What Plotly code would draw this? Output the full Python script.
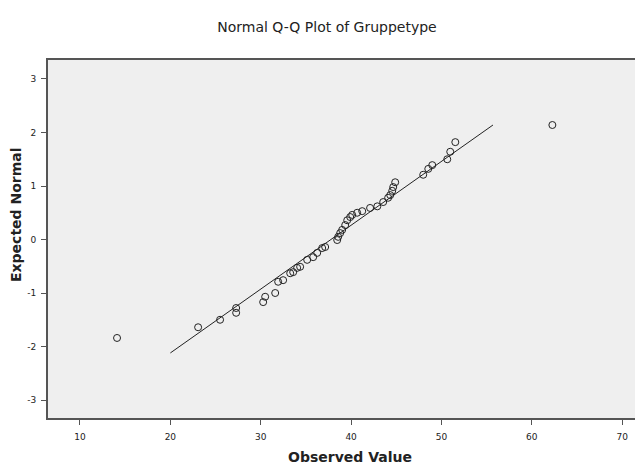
import plotly.graph_objects as go

observed = [14.1, 23.07, 25.50, 27.28, 27.28, 30.27, 30.49, 31.6, 31.93, 32.48,
            33.26, 33.59, 34.03, 34.36, 35.14, 35.80, 36.25, 36.80, 37.13, 38.46,
            38.57, 38.79, 39.01, 39.35, 39.57, 39.90, 40.12, 40.67, 41.23, 42.1,
            42.9, 43.55, 44.1, 44.33, 44.55, 44.66, 44.88, 47.98, 48.54, 48.98,
            50.64, 50.97, 51.53, 62.27]
expected = [-1.84, -1.64, -1.50, -1.37, -1.28, -1.17, -1.07, -1.00, -0.79, -0.76,
            -0.63, -0.61, -0.53, -0.51, -0.38, -0.33, -0.25, -0.16, -0.14, -0.01,
            0.05, 0.12, 0.18, 0.27, 0.36, 0.42, 0.46, 0.50, 0.53, 0.59,
            0.62, 0.70, 0.78, 0.83, 0.91, 0.98, 1.07, 1.21, 1.32, 1.39,
            1.50, 1.64, 1.82, 2.14]
line_x = [20.0, 55.7]
line_y = [-2.12, 2.14]
x_ticks = [10, 20, 30, 40, 50, 60, 70]
y_ticks = [3, 2, 1, 0, -1, -2, -3]

fig = go.Figure()
fig.add_trace(go.Scatter(x=line_x, y=line_y, mode="lines",
                         line=dict(color="#222222", width=1), showlegend=False))
fig.add_trace(go.Scatter(x=observed, y=expected, mode="markers",
                         marker=dict(symbol="circle-open", size=7,
                                     color="#222222", line=dict(width=1)),
                         showlegend=False))

W, H = 643, 470
L, R, T, B = 40, 8, 52, 60
PW, PH = W - L - R, H - T - B
fig.update_layout(
    width=W, height=H,
    margin=dict(l=L, r=R, t=T, b=B),
    paper_bgcolor="white", plot_bgcolor="#efefef",
    font=dict(family="DejaVu Sans, Liberation Sans, sans-serif", color="#222222", size=9),
    title=dict(text="Normal Q-Q Plot of Gruppetype", x=319 / W, xref="container",
               y=1 - 19 / H, yref="container", yanchor="middle", xanchor="center",
               font=dict(size=14, color="#222222")),
    annotations=[
        dict(text="<b>Observed Value</b>", xref="paper", yref="paper",
             x=(342 - L) / PW, y=-(449 - (H - B)) / PH,
             xanchor="center", yanchor="middle", showarrow=False,
             font=dict(size=14, color="#222222")),
        dict(text="<b>Expected Normal</b>", xref="paper", yref="paper",
             x=-(L - 8) / PW, y=((H - B) - 207) / PH,
             xanchor="center", yanchor="middle", showarrow=False, textangle=-90,
             font=dict(size=14, color="#222222")),
    ],
)
fig.update_xaxes(range=[6.46, 72.3], tickvals=x_ticks, ticktext=[str(v) for v in x_ticks],
                 showgrid=False, zeroline=False, showline=True, mirror=True,
                 linecolor="#555555", linewidth=2, ticks="outside", ticklen=5,
                 tickcolor="#555555", ticklabelstandoff=4)
fig.update_yaxes(range=[-3.336, 3.355], tickvals=y_ticks, ticktext=[str(v) for v in y_ticks],
                 showgrid=False, zeroline=False, showline=True, mirror=False,
                 linecolor="#555555", linewidth=2, ticks="outside", ticklen=5,
                 tickcolor="#555555", ticklabelstandoff=3)

fig.write_html("out.html")
